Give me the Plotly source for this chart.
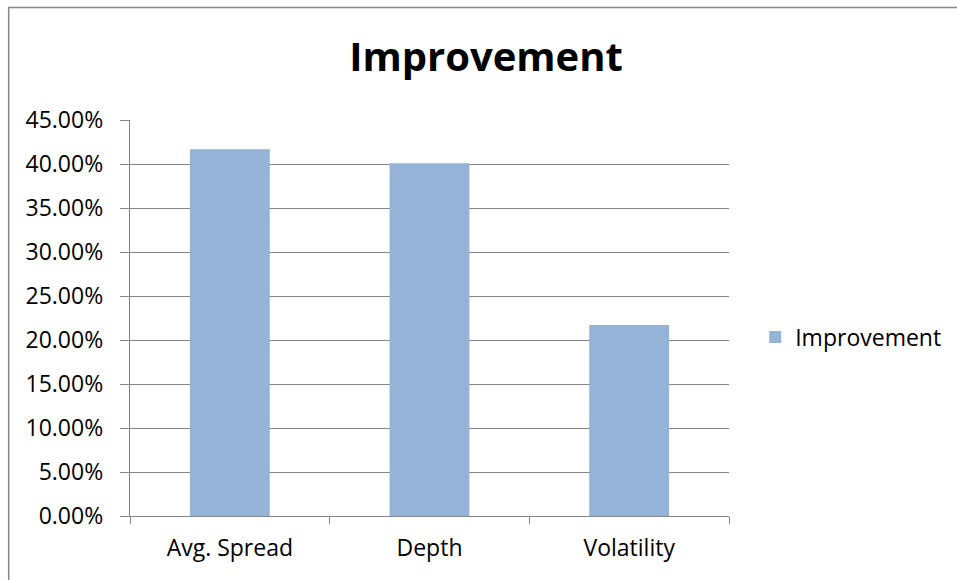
import plotly.graph_objects as go

categories = ["Avg. Spread", "Depth", "Volatility"]
improvement = [0.4167, 0.4008, 0.2170]
series_name = "Improvement"
chart_title = "Improvement"

FONT = "Open Sans"
GRID = "#868686"

fig = go.Figure()
fig.add_trace(go.Bar(
    x=categories, y=improvement, name=series_name,
    marker=dict(color="#95B3D7", line=dict(width=0)),
    width=0.4, showlegend=True,
))

fig.update_layout(
    width=957, height=580,
    margin=dict(l=130, r=227, t=120, b=64),
    paper_bgcolor="white", plot_bgcolor="white",
    font=dict(family=FONT, size=23, color="#000000"),
    title=dict(text="<b>" + chart_title + "</b>", x=486/957, xanchor="center",
               xref="container", y=1 - 57/580, yanchor="middle", yref="container",
               font=dict(family=FONT, size=40, color="#000000")),
    showlegend=True,
    legend=dict(x=1.042, xanchor="left", y=0.452, yanchor="middle",
                font=dict(family=FONT, size=23), bgcolor="rgba(0,0,0,0)",
                itemwidth=30),
    bargap=0.6,
)

fig.update_yaxes(
    range=[0, 0.45], dtick=0.05, tick0=0, tickformat=".2%",
    showgrid=True, gridcolor=GRID, gridwidth=1.4,
    showline=True, linecolor=GRID, linewidth=1.4,
    ticks="outside", ticklen=9, tickcolor=GRID, tickwidth=1.4,
    ticklabelstandoff=12, zeroline=False,
    tickfont=dict(family=FONT, size=23),
)
fig.update_xaxes(
    range=[-0.5, 2.5], tickson="boundaries",
    showline=True, linecolor=GRID, linewidth=1.4,
    ticks="outside", ticklen=7, tickcolor=GRID, tickwidth=1.4,
    ticklabelstandoff=11, showgrid=False,
    tickfont=dict(family=FONT, size=23),
)

# outer chart border (extends beyond visible area on right/bottom, as in the reference)
fig.add_shape(type="rect", xref="paper", yref="paper",
              x0=(8.5 - 130) / 600, x1=2.0, y0=-1.0, y1=(516 - 7.5) / 396,
              line=dict(color="#868686", width=1.5), fillcolor="rgba(0,0,0,0)", layer="below")

fig.write_html("out.html")
